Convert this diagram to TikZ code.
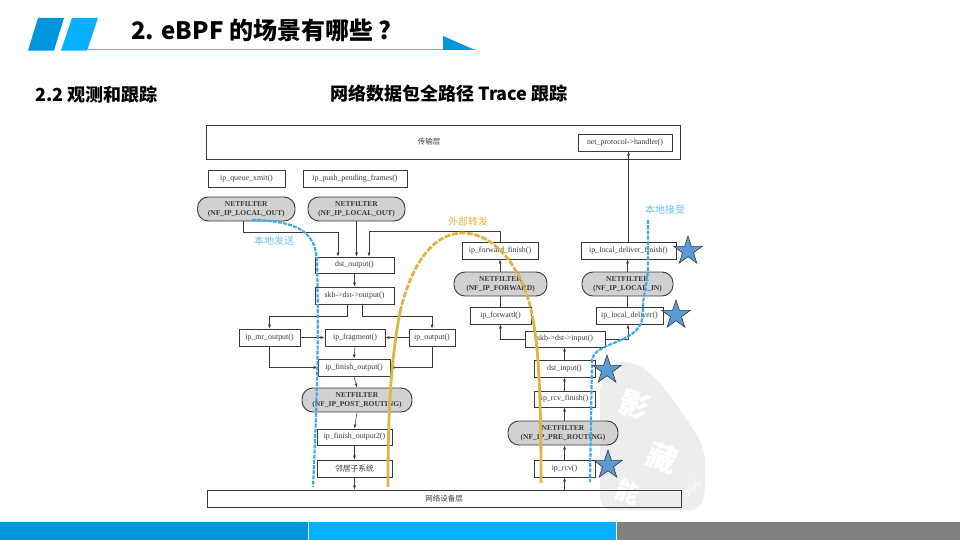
\documentclass[tikz,border=0pt]{standalone}
\usepackage{fontspec}
\setmainfont{Liberation Serif}
\newfontfamily\cjk{Noto Sans CJK SC}
\usetikzlibrary{shapes.geometric,arrows.meta,calc}
\definecolor{bluea}{HTML}{0096DC}
\definecolor{blueb}{HTML}{05B0FF}
\definecolor{greyc}{HTML}{808080}
\definecolor{rulec}{HTML}{5DB6EA}
\definecolor{tracey}{HTML}{DDB544}
\definecolor{traceb}{HTML}{3FA9EC}
\definecolor{starc}{HTML}{5B9BD5}
\definecolor{ink}{HTML}{3A3A3A}
\tikzset{
  fn/.style={draw=ink,line width=.9pt,fill=white,inner sep=0pt,font=\fontsize{7.9}{9}\selectfont,text=ink,anchor=center},
  nf/.style={draw=ink,line width=.9pt,fill=black!18,rounded corners=11pt,inner sep=0pt,align=center,font=\bfseries\fontsize{7.5}{9}\selectfont,text=ink},
  link/.style={draw=ink,line width=.55pt,-{Latex[length=4pt,width=3pt]}},
  plainlink/.style={draw=ink,line width=.55pt},
  ytrace/.style={draw=tracey,line width=2.8pt},
  btrace/.style={draw=traceb,line width=2.2pt,dash pattern=on 4pt off 1.2pt},
  starmark/.style={star,star points=5,star point ratio=2.6,minimum size=30pt,inner sep=0pt,fill=starc,draw=ink,line width=.6pt},
  tag/.style={font=\cjk\fontsize{10}{12}\selectfont},
  seal/.style={text=white,font=\cjk\bfseries\fontsize{30}{30}\selectfont},
}
\newcommand{\bx}[6][fn]{\node[#1,minimum width={(#4-#3)*1pt},minimum height={(#6-#5)*1pt}] (#2) at ({(#3+#4)/2},{(#5+#6)/2})}
\begin{document}
\begin{tikzpicture}[x=1pt,y=-1pt]
\useasboundingbox (0,0) rectangle (960,540);
% slide furniture
\fill[bluea] (28,50.6)--(38,18)--(64,18)--(54,50.6)--cycle;
\fill[blueb] (61,50.6)--(72,18)--(98,18)--(87,50.6)--cycle;
\draw[rulec,line width=.8pt] (87,49.8)--(475,49.8);
\fill[bluea] (443,36)--(443,50)--(475,50)--cycle;
\fill[bluea] (0,522) rectangle (308,540);
\fill[blueb] (308.5,522) rectangle (616,540);
\fill[greyc] (616.5,522) rectangle (960,540);
\node[anchor=west,inner sep=0pt,font=\cjk\bfseries\fontsize{24}{28}\selectfont] (title) at (131,30) {2. eBPF 的场景有哪些 ?};
\node[anchor=west,inner sep=0pt,font=\cjk\bfseries\fontsize{18}{22}\selectfont] (sec) at (35,95) {2.2 观测和跟踪};
\node[anchor=west,inner sep=0pt,font=\cjk\bfseries\fontsize{18}{22}\selectfont] (cap) at (330,94) {网络数据包全路径 Trace 跟踪};
% watermark
\fill[black!7,rounded corners=12pt] (612,362)--(636,362)--(658,380)--(682,412)--(704,446)--(706,482)--(702,510)--(600,510)--(600,380)--cycle;
\node[seal,rotate=-20] (wa) at (634,405) {影};
\node[seal,rotate=-20] (wb) at (662,458) {藏};
\node[seal,rotate=-20,font=\cjk\bfseries\fontsize{24}{24}\selectfont] (wc) at (628,492) {能};
\node[text=white,rotate=50,font=\sffamily\fontsize{9}{10}\selectfont\addfontfeature{LetterSpace=40}] (wd) at (693,488) {PDG};
% boxes
\bx[fn,fill=none]{tr}{206}{680}{125}{159}{};
\node[font=\cjk\fontsize{7.5}{9}\selectfont,text=ink] (trl) at (429,142) {传输层};
\bx{np}{578}{672}{134}{151}{net\_protocol->handler()};
\bx[fn,line width=.6pt]{qx}{208}{285}{170}{187}{ip\_queue\_xmit()};
\bx[fn,line width=.6pt]{pp}{303}{407}{170}{187}{ip\_push\_pending\_frames()};
\bx[nf]{nfa}{197.5}{295}{197}{221}{NETFILTER\\(NF\_IP\_LOCAL\_OUT)};
\bx[nf]{nfb}{308}{405}{197}{221}{NETFILTER\\(NF\_IP\_LOCAL\_OUT)};
\bx{dst}{315}{394}{257}{273}{dst\_output()};
\bx{skb}{315}{394}{287}{304}{skb->dst->output()};
\bx{mr}{239}{300}{329}{346}{ip\_mr\_output()};
\bx{frag}{325}{385}{329}{346}{ip\_fragment()};
\bx{out}{409}{455}{329}{346}{ip\_output()};
\bx{fin}{318}{390}{359}{376}{ip\_finish\_output()};
\bx[nf]{nfp}{302}{412}{388}{412}{NETFILTER\\(NF\_IP\_POST\_ROUTING)};
\bx{fintwo}{317}{392}{429}{445}{ip\_finish\_output2()};
\bx[fn,font=\cjk\fontsize{7.8}{9}\selectfont]{nei}{317}{392}{460}{477}{邻居子系统};
\bx[fn,fill=none]{dev}{207}{681}{490}{507}{};
\node[font=\cjk\fontsize{7.5}{9}\selectfont,text=ink] (devl) at (444,498.5) {网络设备层};
\bx{ff}{462}{538}{242}{259}{ip\_forward\_finish()};
\bx[nf]{nff}{454}{547}{272}{296}{NETFILTER\\(NF\_IP\_FORWARD)};
\bx{fw}{470}{531}{307}{324}{ip\_forward()};
\bx{ldf}{581}{676}{242}{259}{ip\_local\_deliver\_finish()};
\bx[nf]{nfl}{582}{673}{272}{296}{NETFILTER\\(NF\_IP\_LOCAL\_IN)};
\bx{ld}{596}{663}{307}{324}{ip\_local\_deliver()};
\bx{sin}{525}{605}{331}{347}{skb->dst->input()};
\bx{di}{534}{595}{360}{377}{dst\_input()};
\bx{rf}{534}{595}{391}{407}{ip\_rcv\_finish()};
\bx[nf]{nfr}{508}{618}{421}{445}{NETFILTER\\(NF\_IP\_PRE\_ROUTING)};
\bx{rcv}{534}{595}{460}{477}{ip\_rcv()};
% connectors
\coordinate (busl) at (0,316);
\draw[link] ([xshift=-2.75pt]nfa.south) -- ++(0,11) -| ([xshift=-16.5pt]dst.north);
\draw[link] (nfb.south) -- (nfb.south |- dst.north);
\draw[link] (ff.north) -- ++(0,-10) -| ([xshift=14.5pt]dst.north);
\draw[link] (dst.south) -- (skb.north);
\draw[link] ([xshift=-7.5pt]skb.south) |- (mr.north |- busl) -- (mr.north);
\draw[link] ([xshift=7.5pt]skb.south) |- (out.north |- busl) -- (out.north);
\draw[link] (mr.east) -- (frag.west);
\draw[link] (out.west) -- (frag.east);
\draw[link] (mr.south) |- (fin.west);
\draw[link] (out.south) |- (fin.east);
\draw[link] (frag.south) -- (fin.north);
\draw[link] (fin.south) -- (nfp.north);
\draw[link] (nfp.south) -- (fintwo.north);
\draw[link] (fintwo.south) -- (nei.north);
\draw[link] (nei.south) -- (nei.south |- dev.north);
\draw[link] (dev.north -| rcv.south) -- (rcv.south);
\draw[link] (rcv.north) -- (nfr.south -| rcv.north);
\draw[link] (nfr.north -| rf.south) -- (rf.south);
\draw[link] (rf.north) -- (di.south);
\draw[link] (di.north) -- (di.north |- sin.south);
\draw[link] (sin.west) -| (fw.south);
\draw[link] (sin.east) -| ([xshift=-1.5pt]ld.south);
\draw[plainlink] (fw.north) -- (nff.south -| fw.north);
\draw[link] (nff.north -| ff.south) -- (ff.south);
\draw[plainlink] (ld.north -| nfl.south) -- (nfl.south);
\draw[link] (nfl.north) -- (nfl.north |- ldf.south);
\draw[link] (ldf.north) -- (ldf.north |- np.south);
% traces
\coordinate (ys) at (388,487);
\coordinate (ym) at (400,312);
\coordinate (yt) at (463,233);
\coordinate (yr) at (533,320);
\coordinate (ye) at (541,483);
\draw[ytrace] (ys) .. controls (388,430) and (389,370) .. (ym);
\draw[ytrace,dash pattern=on 6pt off 1.5pt] (ym) .. controls (410,270) and (430,233) .. (yt) .. controls (495,233) and (525,270) .. (yr);
\draw[ytrace] (yr) .. controls (540,355) and (541,420) .. (ye);
\coordinate (ba) at (252,220);
\coordinate (bb) at (317,262);
\coordinate (bc) at (313,487);
\draw[btrace] (ba) .. controls (295,221) and (316,230) .. (bb) .. controls (319,340) and (317,400) .. (bc);
\coordinate (ca) at (648,220);
\coordinate (cb) at (643,312);
\coordinate (cc) at (592,360);
\coordinate (cd) at (590,482);
\draw[btrace] (ca) -- (648,265) .. controls (648,285) and (642,295) .. (cb) .. controls (644,345) and (595,340) .. (cc) -- (cd);
% labels
\node[tag,text=traceb!75] (la) at (274,241) {本地发送};
\node[tag,text=tracey] (lb) at (468,222) {外部转发};
\node[tag,text=traceb!75] (lc) at (665,210) {本地接受};
% stars
\node[starmark] (sa) at (688,251) {};
\node[starmark] (sb) at (676,315) {};
\node[starmark] (sc) at (607,370) {};
\node[starmark] (sd) at (608,465) {};
\end{tikzpicture}
\end{document}
